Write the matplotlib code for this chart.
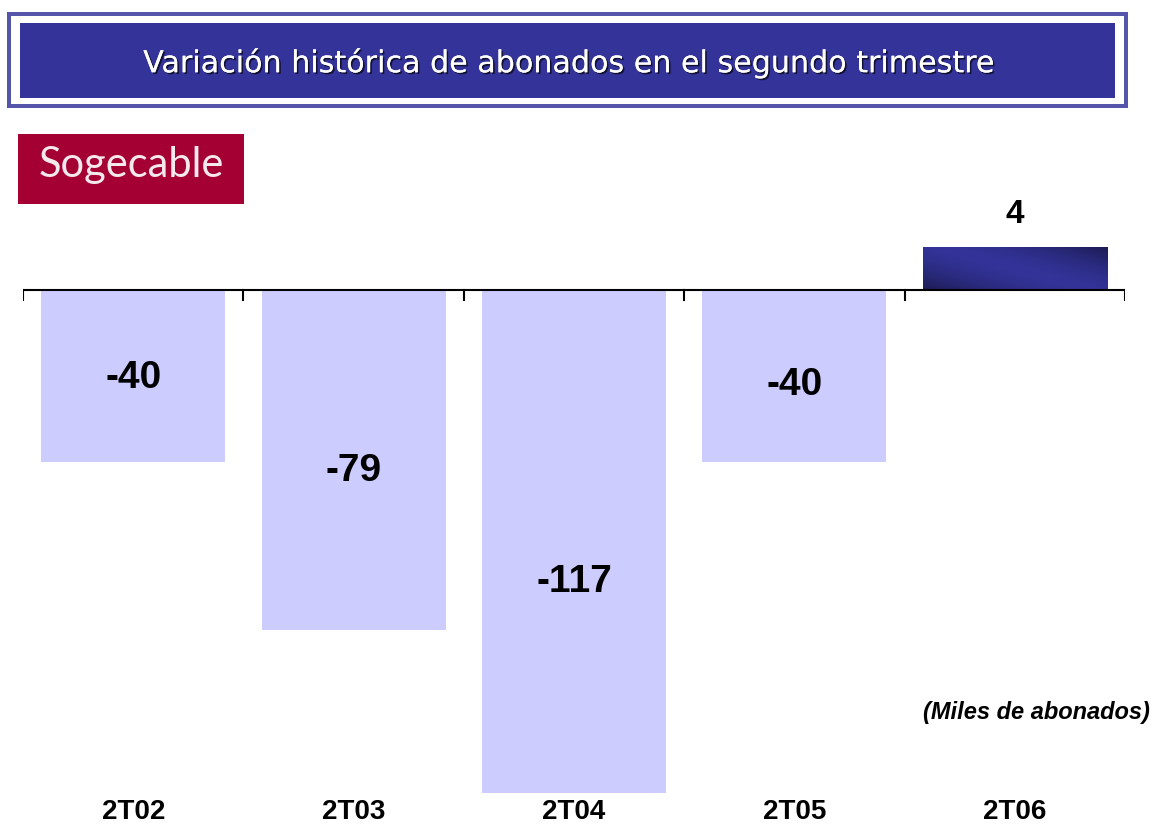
import matplotlib.pyplot as plt
import matplotlib.patheffects as pe
from matplotlib.patches import Rectangle
import numpy as np

# data
quarters = ['2T02', '2T03', '2T04', '2T05', '2T06']
values = [-40, -79, -117, -40, 4]
# heights as drawn in the picture (the small positive bar is drawn taller than scale)
bar_heights = [-40, -79, -117, -40, 10]
label_y = [-20.5, -42, -68, -22, 17.5]

title = 'Variación histórica de abonados en el segundo trimestre'
units = '(Miles de abonados)'

W, H = 1155, 825
fig = plt.figure(figsize=(W / 100, H / 100), dpi=100)

# title banner (figure pixel coords)
bg = fig.add_axes([0, 0, 1, 1])
bg.set_xlim(0, W)
bg.set_ylim(H, 0)
bg.axis('off')
bg.add_patch(Rectangle((7, 12), 1121, 96, facecolor='#5555aa', edgecolor='none'))
bg.add_patch(Rectangle((11, 16), 1113, 88, facecolor='white', edgecolor='none'))
bg.add_patch(Rectangle((20, 23), 1095, 75, facecolor='#333399', edgecolor='none'))
bg.text(569, 63, title, color='white', fontsize=21.7, family='DejaVu Sans',
        ha='center', va='center',
        path_effects=[pe.withSimplePatchShadow(offset=(1.2, -1.2), shadow_rgbFace='#111133', alpha=1),
                      pe.Normal()])

# logo
bg.add_patch(Rectangle((18, 134), 226, 70, facecolor='#a50034', edgecolor='none'))
bg.text(131, 165, 'Sogecable', color='#f6e9ee', fontsize=30, family='Lato',
        ha='center', va='center')

# chart
ax = fig.add_axes([23 / W, 25 / H, (1125 - 23) / W, 600 / H])
x = np.arange(len(quarters))
ylo = -510 / 4.3
yhi = 90 / 4.3
ax.set_xlim(-0.5, len(quarters) - 0.5)
ax.set_ylim(ylo, yhi)
ax.axis('off')

bars = ax.bar(x, bar_heights, width=0.835, color='#ccccff', zorder=1)

# gradient fill for the positive bar
grad_bar = bars[4]
gx, gy = grad_bar.get_x(), grad_bar.get_y()
gw, gh = grad_bar.get_width(), grad_bar.get_height()
xx, yy = np.meshgrid(np.linspace(0, 1, 200), np.linspace(0, 1, 50))
t = np.abs((xx * 0.55 + (1 - yy) * 0.45) - 0.5) * 2
dark = np.array([0.11, 0.11, 0.33])
mid = np.array([0.20, 0.20, 0.60])
img = mid[None, None, :] * (1 - t[..., None] ** 1.6) + dark[None, None, :] * t[..., None] ** 1.6
grad_bar.set_facecolor('none')
im = ax.imshow(img, extent=[gx, gx + gw, gy, gy + gh], aspect='auto', zorder=1,
               origin='upper', interpolation='bilinear')
im.set_clip_path(grad_bar)
ax.set_xlim(-0.5, len(quarters) - 0.5)
ax.set_ylim(ylo, yhi)

# baseline with ticks
ax.plot([-0.5, len(quarters) - 0.5], [0, 0], color='black', lw=1.5, zorder=3, solid_capstyle='butt')
tick_len = 10 / 4.3
for b in np.arange(-0.5, len(quarters), 1.0):
    ax.plot([b, b], [0, -tick_len], color='black', lw=1.5, zorder=3)

for i, v in enumerate(values):
    fs = 24 if v > 0 else 28
    ax.text(x[i], label_y[i], str(v), ha='center', va='center', fontsize=fs,
            fontweight='bold', family='Liberation Sans', zorder=4)

for i, q in enumerate(quarters):
    fig.text((23 + 220.4 * (i + 0.5)) / W, 1 - 812 / H, q, ha='center', va='center',
             fontsize=20, fontweight='bold', family='Liberation Sans')

fig.text(1150 / W, 1 - 712 / H, units, ha='right', va='center', fontsize=17,
         fontweight='bold', fontstyle='italic', family='Liberation Sans')

fig.savefig('out.png', dpi=100)
